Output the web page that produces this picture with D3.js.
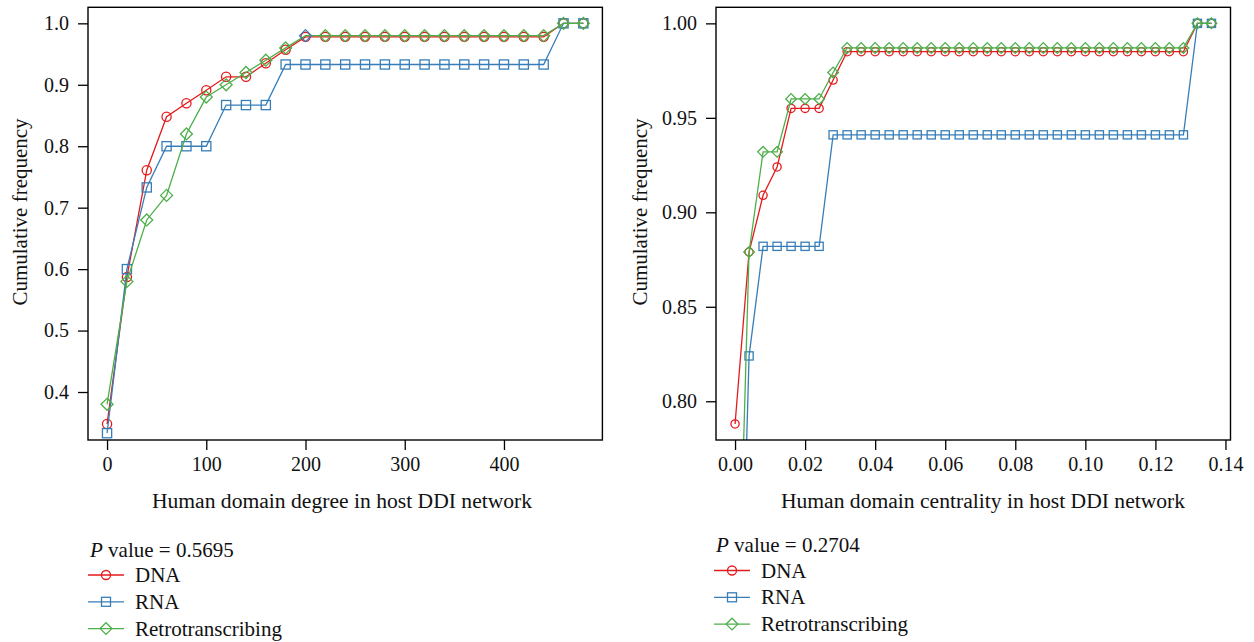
<!DOCTYPE html>
<html>
<head>
<meta charset="utf-8">
<script src="https://cdn.jsdelivr.net/npm/d3@7"></script>
<style>
  body { margin: 0; background: #fff; }
  svg { display: block; font-family: "Liberation Serif", "DejaVu Serif", serif; }
</style>
</head>
<body>
<svg id="chart" width="1254" height="642"></svg>
<script>
// ---- data ----
const seriesNames = ["DNA", "RNA", "Retrotranscribing"];
const seriesColors = ["#E41A1C", "#377EB8", "#4DAF4A"];
const seriesShapes = ["circle", "square", "diamond"];

const degreeX = [0, 20, 40, 60, 80, 100, 120, 140, 160, 180, 200, 220, 240,
    260, 280, 300, 320, 340, 360, 380, 400, 420, 440, 460, 480];
const dnaDegree = [0.348, 0.587, 0.761, 0.848, 0.870, 0.891, 0.913, 0.913, 0.935, 0.957, 0.978, 0.978, 0.978,
    0.978, 0.978, 0.978, 0.978, 0.978, 0.978, 0.978, 0.978, 0.978, 0.978, 1.0, 1.0];
const rnaDegree = [0.333, 0.600, 0.733, 0.800, 0.800, 0.800, 0.867, 0.867, 0.867, 0.933, 0.933, 0.933, 0.933,
    0.933, 0.933, 0.933, 0.933, 0.933, 0.933, 0.933, 0.933, 0.933, 0.933, 1.0, 1.0];
const retroDegree = [0.38, 0.58, 0.68, 0.72, 0.82, 0.88, 0.90, 0.92, 0.94, 0.96, 0.98, 0.98, 0.98,
    0.98, 0.98, 0.98, 0.98, 0.98, 0.98, 0.98, 0.98, 0.98, 0.98, 1.0, 1.0];

const centralityX = [0, 0.004, 0.008, 0.012, 0.016, 0.020, 0.024, 0.028, 0.032, 0.036, 0.040, 0.044,
    0.048, 0.052, 0.056, 0.060, 0.064, 0.068, 0.072, 0.076, 0.080, 0.084, 0.088, 0.092,
    0.096, 0.100, 0.104, 0.108, 0.112, 0.116, 0.120, 0.124, 0.128, 0.132, 0.136];
const dnaCentrality = [0.788, 0.879, 0.909, 0.924, 0.955, 0.955, 0.955, 0.970, 0.985, 0.985, 0.985, 0.985,
    0.985, 0.985, 0.985, 0.985, 0.985, 0.985, 0.985, 0.985, 0.985, 0.985, 0.985, 0.985,
    0.985, 0.985, 0.985, 0.985, 0.985, 0.985, 0.985, 0.985, 0.985, 1.0, 1.0];
const rnaCentrality = [0.56, 0.824, 0.882, 0.882, 0.882, 0.882, 0.882, 0.941, 0.941, 0.941, 0.941, 0.941,
    0.941, 0.941, 0.941, 0.941, 0.941, 0.941, 0.941, 0.941, 0.941, 0.941, 0.941, 0.941,
    0.941, 0.941, 0.941, 0.941, 0.941, 0.941, 0.941, 0.941, 0.941, 1.0, 1.0];
const retroCentrality = [0.62, 0.879, 0.932, 0.932, 0.960, 0.960, 0.960, 0.974, 0.987, 0.987, 0.987, 0.987,
    0.987, 0.987, 0.987, 0.987, 0.987, 0.987, 0.987, 0.987, 0.987, 0.987, 0.987, 0.987,
    0.987, 0.987, 0.987, 0.987, 0.987, 0.987, 0.987, 0.987, 0.987, 1.0, 1.0];

const degreeTicksX = [0, 100, 200, 300, 400];
const degreeTicksY = [0.4, 0.5, 0.6, 0.7, 0.8, 0.9, 1.0];
const centralityTicksX = [0, 0.02, 0.04, 0.06, 0.08, 0.10, 0.12, 0.14];
const centralityTicksY = [0.80, 0.85, 0.90, 0.95, 1.00];

const svg = d3.select("#chart");

function marker(g, shape, cx, cy, s, color) {
    if (shape === "circle") {
        g.append("circle").attr("cx", cx).attr("cy", cy).attr("r", s)
            .attr("fill", "none").attr("stroke", color).attr("stroke-width", 1.3);
    } else if (shape === "square") {
        g.append("rect").attr("x", cx - s).attr("y", cy - s).attr("width", 2 * s).attr("height", 2 * s)
            .attr("fill", "none").attr("stroke", color).attr("stroke-width", 1.3);
    } else {
        const d = s * 1.3;
        g.append("path").attr("d", `M${cx},${cy - d}L${cx + d},${cy}L${cx},${cy + d}L${cx - d},${cy}Z`)
            .attr("fill", "none").attr("stroke", color).attr("stroke-width", 1.3);
    }
}

function panel(id, opts) {
    const x = d3.scaleLinear().domain(opts.xDomain).range([opts.left, opts.right]);
    const y = d3.scaleLinear().domain(opts.yDomain).range([opts.bottom, opts.top]);
    const g = svg.append("g");

    g.append("clipPath").attr("id", id)
        .append("rect").attr("x", opts.left).attr("y", opts.top)
        .attr("width", opts.right - opts.left).attr("height", opts.bottom - opts.top);

    const plot = g.append("g").attr("clip-path", `url(#${id})`);
    opts.series.forEach(function (vals, i) {
        const pts = opts.xs.map(function (v, j) { return [v, vals[j]]; });
        plot.append("path")
            .attr("d", d3.line().x(d => x(d[0])).y(d => y(d[1]))(pts))
            .attr("fill", "none")
            .attr("stroke", seriesColors[i])
            .attr("stroke-width", 1.3);
        pts.forEach(function (p, j) {
            // the source draws one retrotranscribing marker in the RNA colour
            const c = (opts.oddMarker && i === 2 && j === opts.oddMarker) ? seriesColors[1] : seriesColors[i];
            marker(plot, seriesShapes[i], x(p[0]), y(p[1]), opts.markerSize, c);
        });
    });

    g.append("rect")
        .attr("x", opts.left).attr("y", opts.top)
        .attr("width", opts.right - opts.left).attr("height", opts.bottom - opts.top)
        .attr("fill", "none").attr("stroke", "#000").attr("stroke-width", 1.4);

    const xAxis = g.append("g")
        .attr("transform", `translate(0, ${opts.bottom})`)
        .call(d3.axisBottom(x).tickValues(opts.xTicks).tickFormat(opts.xFormat).tickSize(10).tickPadding(7));
    const yAxis = g.append("g")
        .attr("transform", `translate(${opts.left}, 0)`)
        .call(d3.axisLeft(y).tickValues(opts.yTicks).tickFormat(opts.yFormat).tickSize(10).tickPadding(9));
    [xAxis, yAxis].forEach(function (a) {
        a.select(".domain").remove();
        a.selectAll("line").attr("stroke", "#000").attr("stroke-width", 1.3);
        a.selectAll("text").attr("fill", "#111").style("font-family", "Liberation Serif").style("font-size", "20px");
    });

    g.append("text")
        .attr("x", opts.xLabelX).attr("y", 508)
        .attr("text-anchor", "middle").style("font-size", "21.6px").attr("fill", "#111")
        .text(opts.xLabel);
    g.append("text")
        .attr("transform", `translate(${opts.yLabelX}, 212) rotate(-90)`)
        .attr("text-anchor", "middle").style("font-size", "21px").attr("fill", "#111")
        .text("Cumulative frequency");

    // legend
    const lg = g.append("g");
    const pv = lg.append("text").attr("x", opts.legendX).attr("y", opts.legendY)
        .style("font-size", "21px").attr("fill", "#111");
    pv.append("tspan").style("font-style", "italic").text("P");
    pv.append("tspan").text(" value = " + opts.pValue);
    seriesNames.forEach(function (name, i) {
        const ly = opts.legendY + 18.5 + i * 26.8;
        lg.append("line").attr("x1", opts.legendX - 2).attr("x2", opts.legendX + 34)
            .attr("y1", ly).attr("y2", ly)
            .attr("stroke", seriesColors[i]).attr("stroke-width", 1.3);
        marker(lg, seriesShapes[i], opts.legendX + 16, ly, 4.5, seriesColors[i]);
        lg.append("text").attr("x", opts.legendX + 45).attr("y", ly + 7)
            .style("font-size", "21px").attr("fill", "#111").text(name);
    });
}

panel("clipDegree", {
    left: 88, right: 602.4, top: 7.3, bottom: 440,
    xDomain: [-19.2, 499.2], yDomain: [0.3219, 1.0261],
    xs: degreeX, series: [dnaDegree, rnaDegree, retroDegree],
    xTicks: degreeTicksX, yTicks: degreeTicksY,
    xFormat: d3.format("d"), yFormat: d3.format(".1f"),
    markerSize: 4.6, oddMarker: 10,
    xLabel: "Human domain degree in host DDI network", xLabelX: 342,
    yLabelX: 27,
    legendX: 90, legendY: 556.5, pValue: "0.5695"
});

panel("clipCentrality", {
    left: 716, right: 1230.5, top: 7.3, bottom: 440,
    xDomain: [-0.00544, 0.14144], yDomain: [0.7795, 1.0085],
    xs: centralityX, series: [dnaCentrality, rnaCentrality, retroCentrality],
    xTicks: centralityTicksX, yTicks: centralityTicksY,
    xFormat: d3.format(".2f"), yFormat: d3.format(".2f"),
    markerSize: 4.1, oddMarker: null,
    xLabel: "Human domain centrality in host DDI network", xLabelX: 983,
    yLabelX: 647,
    legendX: 716, legendY: 552, pValue: "0.2704"
});
</script>
</body>
</html>
